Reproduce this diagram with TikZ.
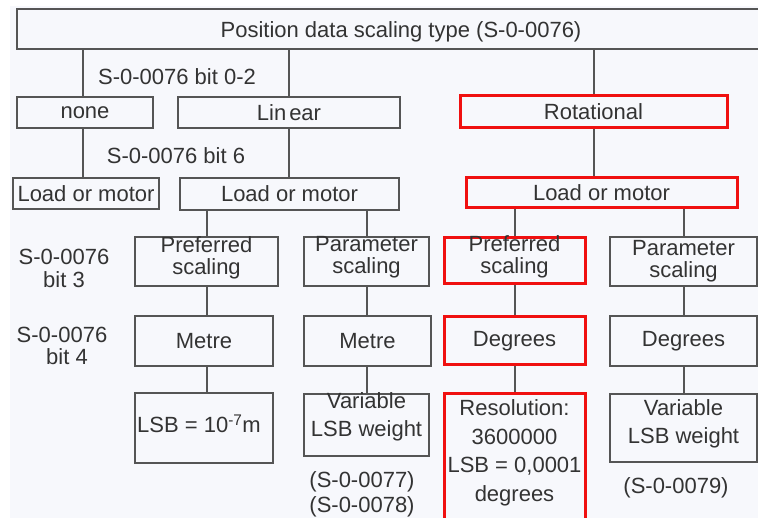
\documentclass[tikz,border=0pt]{standalone}
\usepackage{fontspec}
\setmainfont{Liberation Sans}
\definecolor{bgc}{HTML}{F7F8FC}
\definecolor{lnc}{HTML}{555555}
\definecolor{txc}{HTML}{333333}
\definecolor{hlc}{HTML}{F01010}
\begin{document}
\begin{tikzpicture}[x=1pt,y=-1pt,
  every node/.style={font=\fontsize{22}{22}\selectfont, text=txc},
  bx/.style 2 args={draw=lnc, line width=2pt, minimum width=#1pt, minimum height=#2pt, inner sep=0pt, align=center},
  rbx/.style 2 args={draw=hlc, line width=3pt, minimum width=#1pt, minimum height=#2pt, inner sep=0pt, align=center},
  conn/.style={draw=lnc, line width=2pt},
  lbl/.style={align=center, inner sep=0pt}]
\useasboundingbox (0,0) rectangle (758,518);
\fill[white] (0,0) rectangle (758,518);
\clip (0,0) rectangle (758,518);
\fill[bgc] (10,6) rectangle (758,518);

% row 0
\node[bx={768}{40}, label={[lbl,yshift=-3pt]center:{Position data scaling type (S-0-0076)}}] (top) at (401,29) {};
% row 1
\node[bx={136}{31}] (none) at (85,112.5) {none};
\node[bx={222}{31}] (lin) at (289,112.5) {Lin\kern3pt ear};
\node[rbx={267}{32}] (rot) at (593.5,112) {Rotational};
% row 2
\node[bx={146}{31}] (lm1) at (86,193.5) {Load or motor};
\node[bx={219}{32}] (lm2) at (289.5,194) {Load or motor};
\node[rbx={271}{30}] (lm3) at (601.5,193) {Load or motor};
% row 3
\node[bx={143}{49}, label={[lbl,yshift=4pt]center:{Preferred\\scaling}}] (ps1) at (206.5,261.5) {};
\node[bx={125}{49}, label={[lbl,yshift=4pt]center:{Parameter\\scaling}}] (ps2) at (366.5,261.5) {};
\node[rbx={141}{46}, label={[lbl,yshift=4pt]center:{Preferred\\scaling}}] (ps3) at (514.5,261) {};
\node[bx={147}{49}, label={[lbl,yshift=0pt]center:{Parameter\\scaling}}] (ps4) at (683.5,261.5) {};
% row 4
\node[bx={138}{50}] (m1) at (204,341) {Metre};
\node[bx={127}{50}] (m2) at (367.5,341) {Metre};
\node[rbx={141}{48}] (d3) at (514.5,341) {Degrees};
\node[bx={147}{50}] (d4) at (683.5,341) {Degrees};
% row 5
\node[bx={138}{70}, label={[lbl,xshift=-5pt,yshift=4pt]center:{LSB = 10\textsuperscript{-7}m}}] (l1) at (204,428) {};
\node[bx={125}{62}, label={[lbl,yshift=8pt,font=\fontsize{22}{28}\selectfont]center:{Variable\\LSB weight}}] (l2) at (366.5,425) {};
\node[rbx={141}{136}, label={[lbl,yshift=9pt,font=\fontsize{22}{28.5}\selectfont]center:{Resolution:\\3600000\\LSB = 0,0001\\degrees}}] (l3) at (514.5,462) {};
\node[bx={147}{68}, label={[lbl,yshift=4pt,font=\fontsize{22}{28}\selectfont]center:{Variable\\LSB weight}}] (l4) at (683.5,428) {};

% labels
\node[lbl] (b02) at (177,77) {S-0-0076 bit 0-2};
\node[lbl] (b6) at (176,156) {S-0-0076 bit 6};
\node[lbl, font=\fontsize{22}{23}\selectfont] (b3) at (64,268) {S-0-0076\\bit 3};
\node[lbl, font=\fontsize{22}{22}\selectfont] (b4) at (62,346) {S-0-0076\\\kern10pt bit 4};
\node[lbl, font=\fontsize{22}{25}\selectfont] (p78) at (362,494.5) {(S-0-0077)\\(S-0-0078)};
\node[lbl] (p79) at (676,488) {(S-0-0079)};

% connectors
\path[conn] (top.south -| 83,0) -- (none.north -| 83,0);
\path[conn] (lin.north) -- (lin.north |- top.south);
\path[conn] (rot.north) -- (rot.north |- top.south);
\path[conn] (none.south -| 83,0) -- (lm1.north -| 83,0);
\path[conn] (lin.south) -- (lin.south |- lm2.north);
\path[conn] (rot.south) -- (rot.south |- lm3.north);
\path[conn] (ps1.north) -- (ps1.north |- lm2.south);
\path[conn] (ps2.north) -- (ps2.north |- lm2.south);
\path[conn] (ps3.north) -- (ps3.north |- lm3.south);
\path[conn] (ps4.north) -- (ps4.north |- lm3.south);
\path[conn] (ps1.south) -- (ps1.south |- m1.north);
\path[conn] (ps2.south) -- (ps2.south |- m2.north);
\path[conn] (ps3.south) -- (ps3.south |- d3.north);
\path[conn] (ps4.south) -- (ps4.south |- d4.north);
\path[conn] (ps1.south |- m1.south) -- (ps1.south |- l1.north);
\path[conn] (ps2.south |- m2.south) -- (ps2.south |- l2.north);
\path[conn] (d3.south) -- (d3.south |- l3.north);
\path[conn] (d4.south) -- (d4.south |- l4.north);
\end{tikzpicture}
\end{document}
